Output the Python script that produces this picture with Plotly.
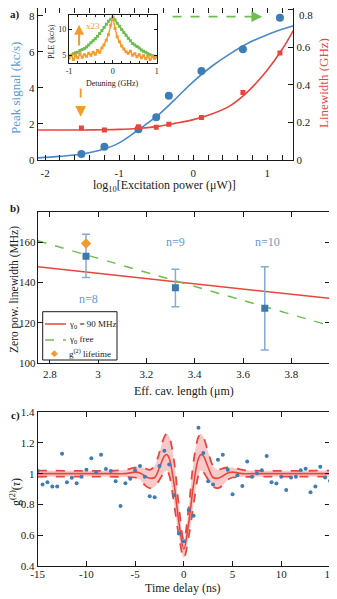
import plotly.graph_objects as go

# ---------- a) peak signal and linewidth vs excitation power ----------
log_power = [-1.51, -1.20, -0.74, -0.50, -0.33, 0.11, 0.67, 1.17]
peak_signal = [0.33, 0.74, 1.70, 2.37, 3.57, 4.93, 6.14, 7.89]          # kc/s
linewidth = [0.170, 0.160, 0.177, 0.174, 0.190, 0.226, 0.360, 0.570]     # GHz

fit_power = [-2.1, -1.8, -1.5, -1.25, -1.0, -0.75, -0.5, -0.25, 0.0, 0.25, 0.5, 0.75, 1.0, 1.2, 1.35]
peak_fit = [0.12, 0.20, 0.33, 0.55, 0.95, 1.65, 2.40, 3.35, 4.35, 5.20, 5.90, 6.50, 6.95, 7.25, 7.45]
linewidth_fit = [0.160, 0.160, 0.160, 0.161, 0.163, 0.168, 0.178, 0.195, 0.215, 0.245, 0.290, 0.370, 0.480, 0.590, 0.690]
power_ticks = [-2, -1, 0, 1]
power_ticktext = ["-2", "-1", "0", "1"]
lw_ticks = [0, 0.2, 0.4, 0.6, 0.8]
lw_ticktext = ["0", "0.2", "0.4", "0.6", ""]   # top label placed by hand so it is not clipped

# inset: PLE scans
detuning = [-1.0, -0.95, -0.9, -0.85, -0.8, -0.75, -0.7, -0.65, -0.6, -0.55, -0.5, -0.45, -0.4, -0.35,
            -0.3, -0.25, -0.2, -0.15, -0.1, -0.05, 0.0, 0.05, 0.1, 0.15, 0.2, 0.25, 0.3, 0.35, 0.4,
            0.45, 0.5, 0.55, 0.6, 0.65, 0.7, 0.75, 0.8, 0.85, 0.9, 0.95, 1.0]
ple_high = [4.7, 5.0, 5.3, 5.5, 5.6, 5.9, 6.1, 6.3, 6.6, 7.0, 7.4, 7.8, 8.2, 8.7, 9.2, 9.8, 10.4, 11.0,
            11.6, 12.0, 12.3, 11.9, 11.2, 10.6, 10.0, 9.4, 8.9, 8.3, 7.8, 7.3, 7.0, 6.7, 6.4, 6.0, 5.8,
            5.6, 5.3, 5.1, 4.9, 4.8, 4.7]
ple_low = [4.4, 5.0, 4.2, 4.9, 4.5, 5.3, 4.6, 5.1, 4.8, 5.4, 5.0, 5.6, 5.2, 5.9, 5.6, 6.4, 7.0, 7.9,
           9.0, 10.8, 12.4, 10.2, 8.6, 7.6, 6.8, 6.2, 5.7, 5.4, 5.8, 5.0, 5.3, 4.7, 5.1, 4.5, 4.9,
           4.3, 4.8, 4.2, 4.7, 4.4, 4.6]
detuning_ticks = [-1, 0, 1]
detuning_ticktext = ["-1", "0", "1"]

# ---------- b) zero power linewidth vs cavity length ----------
cav_length = [2.95, 3.32, 3.69]
zero_pow_lw = [153.0, 137.4, 127.2]
lw_err_plus = [10.8, 9.1, 20.6]
lw_err_minus = [10.5, 9.4, 20.6]
g2_length = [2.95]
g2_lw = [159.3]
mode_labels = ["n=8", "n=9", "n=10"]
mode_label_x = [2.96, 3.32, 3.70]
mode_label_y = [132, 160, 160]
model_length = [2.75, 3.96]
fixed_gamma_lw = [147.8, 132.1]
free_gamma_lw = [160.6, 118.6]
legend_names = ["γ<sub>0</sub> = 90 MHz", "γ<sub>0</sub> free", "g<sup>(2)</sup> lifetime"]

# ---------- c) g2 autocorrelation ----------
delay = [-15, -14.5, -14, -13.5, -13, -12.5, -12, -11.5, -11, -10.5, -10, -9.5, -9, -8.5, -8, -7.5,
         -7, -6.5, -6, -5.5, -5, -4.5, -4, -3.5, -3, -2.5, -2, -1.5, -1, -0.5, 0, 0.5, 1, 1.5, 2,
         2.5, 3, 3.5, 4, 4.5, 5, 5.5, 6, 6.5, 7, 7.5, 8, 8.5, 9, 9.5, 10, 10.5, 11, 11.5, 12, 12.5,
         13, 13.5, 14, 14.5, 15]
g2 = [1.017, 0.93, 0.944, 0.916, 0.916, 1.13, 0.944, 0.973, 0.938, 0.98, 1.026, 1.10, 1.01, 1.124,
      1.03, 1.017, 0.95, 0.789, 0.938, 0.967, 1.023, 1.05, 0.98, 0.852, 0.846, 1.05, 1.15, 1.06,
      0.86, 0.61, 0.56, 0.763, 0.726, 1.30, 1.135, 0.95, 0.93, 1.09, 1.124, 1.026, 0.866, 0.99,
      0.92, 1.08, 0.98, 1.003, 1.023, 1.115, 0.944, 0.936, 0.98, 0.894, 0.975, 0.98, 1.023, 1.032,
      0.879, 0.916, 1.045, 0.975, 0.953]
fit_delay = [-15, -7, -6, -5, -4.5, -4, -3.5, -3, -2.5, -2, -1.75, -1.5, -1, -0.5, 0, 0.5, 1, 1.5,
             1.75, 2, 2.5, 3, 3.5, 4, 4.5, 5, 6, 7, 15]
g2_fit = [1.0, 1.0, 1.0, 1.01, 1.005, 0.985, 0.97, 0.975, 1.04, 1.115, 1.125, 1.10, 0.93, 0.68, 0.51,
          0.68, 0.93, 1.10, 1.125, 1.115, 1.04, 0.975, 0.97, 0.985, 1.005, 1.01, 1.0, 1.0, 1.0]
g2_upper = [1.02, 1.02, 1.025, 1.04, 1.04, 1.035, 1.025, 1.05, 1.14, 1.24, 1.26, 1.24, 1.08, 0.78,
            0.565, 0.78, 1.08, 1.24, 1.26, 1.24, 1.14, 1.05, 1.025, 1.035, 1.04, 1.04, 1.025, 1.02, 1.02]
g2_lower = [0.98, 0.98, 0.978, 0.975, 0.96, 0.925, 0.905, 0.915, 0.96, 1.01, 1.02, 0.99, 0.80, 0.59,
            0.45, 0.59, 0.80, 0.99, 1.02, 1.01, 0.96, 0.915, 0.905, 0.925, 0.96, 0.975, 0.978, 0.98, 0.98]
delay_ticks = [-15, -10, -5, 0, 5, 10, 15]
delay_ticktext = ["-15", "-10", "-5", "0", "5", "10", "15"]

FONT = "Liberation Serif"
BLACK = "#1a1a1a"
BLUE = "#3f7db5"
BLUE_LINE = "#4a8ac6"
BLUE_TEXT = "#5a9bd0"
RED = "#e8453c"
GREEN = "#6dbe4f"
ORANGE = "#f59b2e"

# the page body keeps its default 8px margin, so the figure is laid out in window pixels minus that
OFF, W, H = 8, 329, 591


def fx(px):
    return (px - OFF) / W


def fy(py):
    return min(1.0, max(0.0, 1 - (py - OFF) / H))


def frame(rng, dtick, **kw):
    d = dict(range=rng, dtick=dtick, showline=True, linecolor=BLACK, linewidth=1.2, mirror="allticks",
             ticks="inside", ticklen=5, tickwidth=1.1, tickcolor=BLACK, showgrid=False, zeroline=False,
             tickfont=dict(family=FONT, size=11, color=BLACK), automargin=False,
             ticklabeloverflow="allow")
    d.update(kw)
    return d


fig = go.Figure()

# a) main
fig.add_trace(go.Scatter(x=fit_power, y=peak_fit, mode="lines", line=dict(color=BLUE_LINE, width=1.6, shape="spline"),
                         xaxis="x", yaxis="y"))
fig.add_trace(go.Scatter(x=log_power, y=peak_signal, mode="markers", marker=dict(color=BLUE, size=8),
                         xaxis="x", yaxis="y"))
fig.add_trace(go.Scatter(x=fit_power, y=linewidth_fit, mode="lines", line=dict(color=RED, width=1.6, shape="spline"),
                         xaxis="x", yaxis="y2"))
fig.add_trace(go.Scatter(x=log_power, y=linewidth, mode="markers", marker=dict(color=RED, size=5, symbol="square"),
                         xaxis="x", yaxis="y2"))

# a) inset
fig.add_trace(go.Scatter(x=detuning, y=ple_high, mode="lines+markers", line=dict(color=GREEN, width=1.5),
                         marker=dict(color=GREEN, size=3, symbol="square"), xaxis="x3", yaxis="y3"))
fig.add_trace(go.Scatter(x=detuning, y=ple_low, mode="lines+markers", line=dict(color=ORANGE, width=1.5),
                         marker=dict(color=ORANGE, size=3, symbol="square"), xaxis="x3", yaxis="y3"))

# b)
fig.add_trace(go.Scatter(x=model_length, y=fixed_gamma_lw, mode="lines", line=dict(color=RED, width=1.5),
                         xaxis="x4", yaxis="y4"))
fig.add_trace(go.Scatter(x=model_length, y=free_gamma_lw, mode="lines", line=dict(color=GREEN, width=1.5, dash="dash"),
                         xaxis="x4", yaxis="y4"))
fig.add_trace(go.Scatter(x=cav_length, y=zero_pow_lw, mode="markers", marker=dict(color="#3e77ae", size=7, symbol="square"),
                         error_y=dict(type="data", array=lw_err_plus, arrayminus=lw_err_minus, color="#86acd0",
                                      thickness=1.5, width=4),
                         xaxis="x4", yaxis="y4"))
fig.add_trace(go.Scatter(x=g2_length, y=g2_lw, mode="markers", marker=dict(color=ORANGE, size=8, symbol="diamond"),
                         xaxis="x4", yaxis="y4"))

# c)
fig.add_trace(go.Scatter(x=fit_delay, y=g2_lower, mode="lines", line=dict(color=RED, width=1.8, dash="dash", shape="spline"),
                         xaxis="x5", yaxis="y5"))
fig.add_trace(go.Scatter(x=fit_delay, y=g2_upper, mode="lines", line=dict(color=RED, width=1.8, dash="dash", shape="spline"),
                         fill="tonexty", fillcolor="rgba(238,110,110,0.38)", xaxis="x5", yaxis="y5"))
fig.add_trace(go.Scatter(x=fit_delay, y=g2_fit, mode="lines", line=dict(color=RED, width=1.6, shape="spline"),
                         xaxis="x5", yaxis="y5"))
fig.add_trace(go.Scatter(x=delay, y=g2, mode="markers", marker=dict(color=BLUE, size=4),
                         xaxis="x5", yaxis="y5"))

small = dict(family=FONT, size=8, color=BLACK)
fig.update_layout(
    width=W, height=H, margin=dict(l=0, r=0, t=0, b=0), showlegend=False,
    paper_bgcolor="white", plot_bgcolor="white",
    font=dict(family=FONT, size=11, color=BLACK),
    xaxis=frame([-2.1, 1.35], 1, domain=[fx(37.7), fx(293.3)], anchor="y", ticklabelstandoff=3,
                tickmode="array", tickvals=power_ticks, ticktext=power_ticktext,
                minor=dict(dtick=0.2, tick0=0, ticks="inside", ticklen=3, tickcolor=BLACK)),
    yaxis=frame([0, 8.43], 2, domain=[fy(160), fy(5)], anchor="x", mirror=False),
    yaxis2=frame([0, 0.81], 0.2, overlaying="y", side="right", anchor="x", mirror=False,
                 tickmode="array", tickvals=lw_ticks, ticktext=lw_ticktext),
    xaxis3=frame([-1, 1], 1, domain=[fx(69), fx(156.7)], anchor="y3", ticklen=3, tickfont=small,
                 tickmode="array", tickvals=detuning_ticks, ticktext=detuning_ticktext,
                 minor=dict(dtick=0.2, tick0=0, ticks="inside", ticklen=2, tickcolor=BLACK)),
    yaxis3=frame([3.5, 12.8], 5, tick0=0, domain=[fy(63), fy(15)], anchor="x3", ticklen=3, tickfont=small),
    xaxis4=frame([2.75, 3.96], 0.2, tick0=2.8, domain=[fx(37.7), fx(330)], anchor="y4"),
    yaxis4=frame([100, 175], 20, tick0=100, domain=[fy(363.3), fy(211.7)], anchor="x4", ticklabelstandoff=-1),
    xaxis5=frame([-15, 15], 5, domain=[fx(37.7), fx(330)], anchor="y5", ticklabelstandoff=-2,
                 tickmode="array", tickvals=delay_ticks, ticktext=delay_ticktext),
    yaxis5=frame([0.4, 1.4], 0.2, domain=[fy(565.7), fy(412.3)], anchor="x5"),
)


def label(text, px, py, angle=0, color=BLACK, size=12, xanchor="center", family=FONT):
    fig.add_annotation(text=text, x=fx(px), y=fy(py), xref="paper", yref="paper",
                       xanchor=xanchor, yanchor="middle", showarrow=False, textangle=angle,
                       font=dict(family=family, size=size, color=color))


# axis titles
label("Peak signal (kc/s)", 15, 88, -90, BLUE_TEXT, 13)
label("Linewidth (GHz)", 323, 83, -90, RED, 13)
label("log<sub>10</sub>[Excitation power (μW)]", 164, 186)
label("Zero pow. linewidth (MHz)", 14, 290, -90, size=11.5)
label("Eff. cav. length (μm)", 184, 391)
label("g<sup>(2)</sup>(<i>τ</i>)", 15, 492, -90)
label("Time delay (ns)", 183, 588)
label("PLE (kc/s)", 51, 42, -90, size=8)
label("Detuning (GHz)", 112, 83, size=8)
label("0.8", 297, 15, size=11, xanchor="left")
# panel letters
label("<b>a)</b>", 15, 14, size=11)
label("<b>b)</b>", 15, 208, size=11)
label("<b>c)</b>", 15, 415, size=11)

# b) mode labels
for t, lx, ly in zip(mode_labels, mode_label_x, mode_label_y):
    fig.add_annotation(text=t, x=lx, y=ly, xref="x4", yref="y4", showarrow=False,
                       font=dict(family=FONT, size=12, color="#6a9ac8"))

# b) legend box drawn by hand to keep the compact row spacing
fig.add_shape(type="rect", xref="paper", yref="paper", x0=fx(42.7), x1=fx(117), y0=fy(360), y1=fy(311.7),
              line=dict(color=BLACK, width=1), fillcolor="white")
fig.add_shape(type="line", xref="paper", yref="paper", x0=fx(45), x1=fx(66), y0=fy(324), y1=fy(324),
              line=dict(color=RED, width=1.5))
fig.add_shape(type="line", xref="paper", yref="paper", x0=fx(45), x1=fx(66), y0=fy(340), y1=fy(340),
              line=dict(color=GREEN, width=1.5, dash="dash"))
label("◆", 54, 352.5, color=ORANGE, size=9, family="DejaVu Sans")
for name, row_y in zip(legend_names, [324, 339, 352.5]):
    label(name, 67, row_y, size=9, xanchor="left")

# a) arrows
fig.add_shape(type="line", x0=-0.28, x1=0.86, y0=7.95, y1=7.95, xref="x", yref="y",
              line=dict(color=GREEN, width=1.8, dash="dash"))
fig.add_annotation(x=0.93, y=7.95, xref="x", yref="y", ax=-10, ay=0, text="", showarrow=True,
                   arrowhead=2, arrowsize=1.2, arrowwidth=1.8, arrowcolor=GREEN)
fig.add_shape(type="line", x0=-1.52, x1=-1.52, y0=3.97, y1=2.65, xref="x", yref="y",
              line=dict(color=ORANGE, width=1.8, dash="dash"))
fig.add_annotation(x=-1.52, y=2.4, xref="x", yref="y", ax=0, ay=-10, text="", showarrow=True,
                   arrowhead=2, arrowsize=1.2, arrowwidth=1.8, arrowcolor=ORANGE)
# inset arrow and scale factor
fig.add_annotation(x=-0.77, y=10.9, xref="x3", yref="y3", ax=-0.77, ay=6.6, axref="x3", ayref="y3",
                   text="", showarrow=True, arrowhead=2, arrowsize=1, arrowwidth=2, arrowcolor=ORANGE)
fig.add_annotation(x=-0.45, y=10.6, xref="x3", yref="y3", text="x23", showarrow=False,
                   font=dict(family=FONT, size=9, color=ORANGE))

fig.write_html("out.html")
